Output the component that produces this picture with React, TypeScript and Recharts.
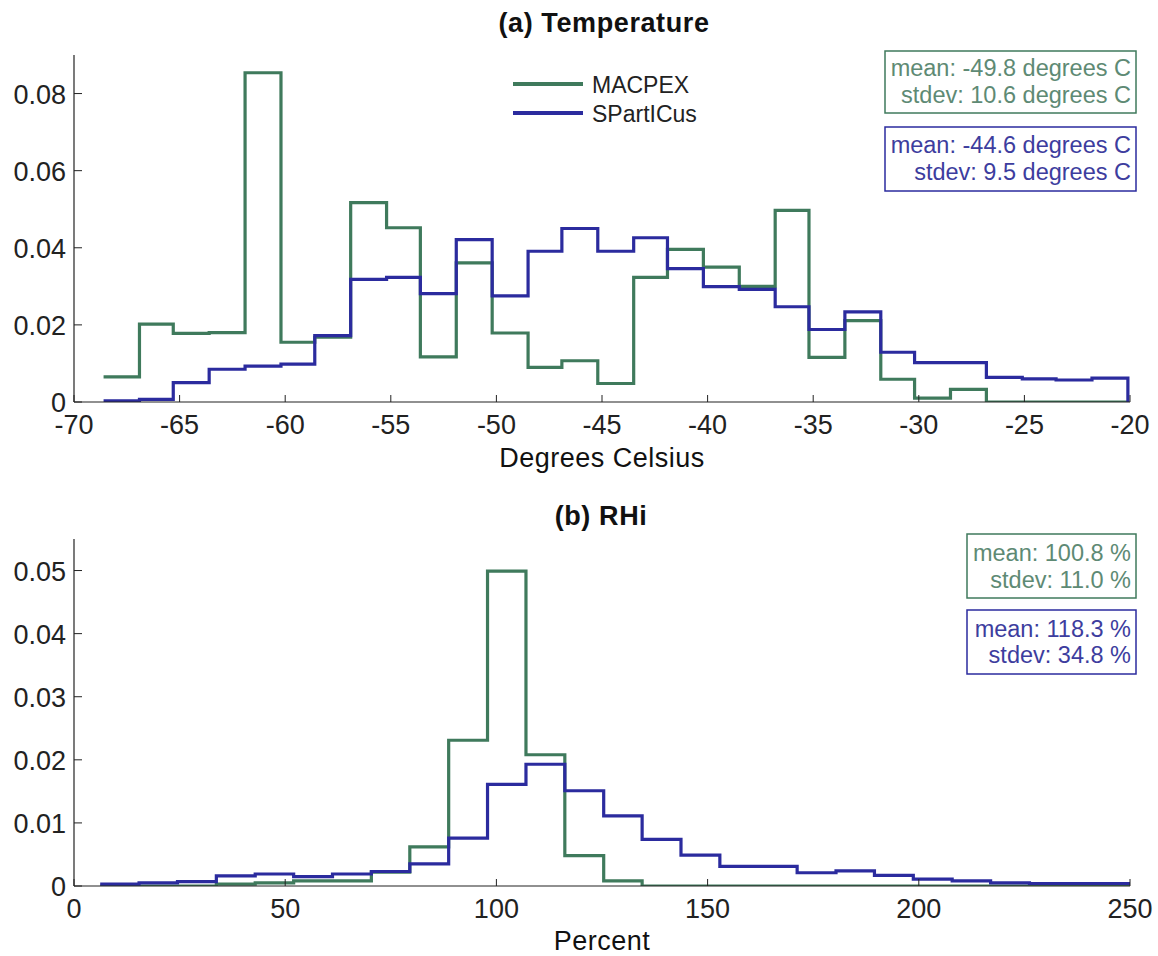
import React from 'react';
import { LineChart, Line, XAxis, YAxis, Legend } from 'recharts';

// ---------- Data ----------
// (a) Temperature histogram: bin edges (deg C) and normalized frequency per bin
const tempEdges = [-68.6, -66.9, -65.3, -63.6, -61.9, -60.2, -58.6, -56.9, -55.2, -53.6, -51.9, -50.2, -48.5, -46.9, -45.2, -43.5, -41.9, -40.2, -38.5, -36.8, -35.2, -33.5, -31.8, -30.2, -28.5, -26.8, -25.1, -23.5, -21.8, -20.1];
const tempMacpex = [0.0065, 0.0202, 0.0178, 0.018, 0.0854, 0.0155, 0.0168, 0.0517, 0.0452, 0.0117, 0.0361, 0.0179, 0.009, 0.0107, 0.0048, 0.0323, 0.0396, 0.035, 0.03, 0.0497, 0.0116, 0.0211, 0.0059, 0.001, 0.0033, 0, 0, 0, 0];
const tempSparticus = [0.0003, 0.0007, 0.005, 0.0085, 0.0093, 0.0098, 0.0172, 0.0318, 0.0323, 0.0281, 0.0421, 0.0275, 0.0391, 0.045, 0.0391, 0.0426, 0.0346, 0.0299, 0.0292, 0.0247, 0.0188, 0.0234, 0.0129, 0.0102, 0.0102, 0.0064, 0.006, 0.0057, 0.0062];
const tempXTicks = [-70, -65, -60, -55, -50, -45, -40, -35, -30, -25, -20];
const tempYTicks = [0, 0.02, 0.04, 0.06, 0.08];

// (b) RHi histogram
const rhEdges = [6.2, 15.4, 24.5, 33.7, 42.9, 52.0, 61.2, 70.4, 79.5, 88.7, 97.9, 107.0, 116.2, 125.4, 134.5, 143.7, 152.9, 162.0, 171.2, 180.4, 189.5, 198.7, 207.9, 217.0, 226.2, 235.4, 244.5, 253.7];
const rhMacpex = [0, 0, 0, 0.0003, 0.0005, 0.0008, 0.0008, 0.0022, 0.0062, 0.0231, 0.0499, 0.0208, 0.0048, 0.0008, 0, 0, 0, 0, 0, 0, 0, 0, 0, 0, 0, 0, 0];
const rhSparticus = [0.0003, 0.0005, 0.0007, 0.0016, 0.0019, 0.0015, 0.0019, 0.0023, 0.0035, 0.0076, 0.0161, 0.0193, 0.0151, 0.0111, 0.0074, 0.0049, 0.0031, 0.0031, 0.0021, 0.0024, 0.0017, 0.0011, 0.0008, 0.0005, 0.0004, 0.0004, 0.0004];
const rhXTicks = [0, 50, 100, 150, 200, 250];
const rhYTicks = [0, 0.01, 0.02, 0.03, 0.04, 0.05];

const seriesNames = ['MACPEX', 'SPartICus'];
const tempStats = [
  ['mean: -49.8 degrees C', 'stdev: 10.6 degrees C'],
  ['mean: -44.6 degrees C', 'stdev: 9.5 degrees C'],
];
const rhStats = [
  ['mean: 100.8 %', 'stdev: 11.0 %'],
  ['mean: 118.3 %', 'stdev: 34.8 %'],
];

// ---------- Styling ----------
const GREEN = '#3f7a5c';
const BLUE = '#2b2b9e';
const GREEN_TXT = '#5e8a74';
const BLUE_TXT = '#3d3d9e';
const FONT = '"Liberation Sans", Arial, Helvetica, sans-serif';
const AXIS = '#222';

// build stairs tables: value of bin i at its left edge, final edge drops to 0
function buildStairs(edges: number[], a: number[], b: number[]) {
  return edges.map((x, i) => ({
    x,
    mac: i < a.length ? a[i] : 0,
    spa: i < b.length ? b[i] : 0,
  }));
}

const tempData = buildStairs(tempEdges, tempMacpex, tempSparticus);
const rhData = buildStairs(rhEdges, rhMacpex, rhSparticus);

const fmtY = (v: number) => (v === 0 ? '0' : v.toFixed(2));

const XTick = (props: any) => {
  const { x, y, payload } = props;
  return (
    <g>
      <line x1={x} x2={x} y1={y} y2={y - 7} stroke={AXIS} strokeWidth={1} />
      <text x={x} y={y + 32} textAnchor="middle" fontSize={27} fontFamily={FONT} fill="#222">
        {String(payload.value)}
      </text>
    </g>
  );
};

const YTick = (props: any) => {
  const { x, y, payload } = props;
  return (
    <g>
      <line x1={x} x2={x + 8} y1={y} y2={y} stroke={AXIS} strokeWidth={1} />
      <text x={x - 8} y={y + 10} textAnchor="end" fontSize={27} fontFamily={FONT} fill="#222">
        {fmtY(payload.value)}
      </text>
    </g>
  );
};

const LegendContent = (props: any) => {
  const payload = props.payload || [];
  return (
    <svg width={240} height={64} style={{ display: 'block' }}>
      {payload.map((p: any, i: number) => (
        <g key={i}>
          <line x1={0} x2={70} y1={14 + i * 29} y2={14 + i * 29} stroke={p.color} strokeWidth={4} />
          <text x={79} y={23 + i * 29} fontSize={23} fontFamily={FONT} fill="#222">
            {p.value}
          </text>
        </g>
      ))}
    </svg>
  );
};

const StatBox = ({ x, y, w, h, lines, color, textColor, baselines }: any) => (
  <g>
    <rect x={x} y={y} width={w} height={h} fill="#fff" stroke={color} strokeWidth={1.5} />
    {lines.map((t: string, i: number) => (
      <text key={i} x={x + w - 5} y={baselines[i]} textAnchor="end" fontSize={23.5} fontFamily={FONT} fill={textColor}>
        {t}
      </text>
    ))}
  </g>
);

export default function App() {
  return (
    <div style={{ position: 'absolute', left: 0, top: 0, width: 1158, height: 956, background: '#fff', fontFamily: FONT }}>
      <div style={{ position: 'absolute', left: 0, top: 0 }}>
        <LineChart width={1158} height={470} data={tempData} margin={{ top: 55, right: 28, bottom: 0, left: 0 }}>
          <XAxis
            type="number"
            dataKey="x"
            domain={[-70, -20]}
            ticks={tempXTicks}
            interval={0}
            allowDataOverflow
            height={68}
            tickSize={0}
            tickMargin={0}
            tickLine={false}
            tick={<XTick />}
            axisLine={{ stroke: AXIS, strokeWidth: 1.2 }}
          />
          <YAxis
            type="number"
            domain={[0, 0.09]}
            ticks={tempYTicks}
            interval={0}
            allowDataOverflow
            width={74}
            tickSize={0}
            tickMargin={0}
            tickLine={false}
            tick={<YTick />}
            axisLine={{ stroke: AXIS, strokeWidth: 1.2 }}
          />
          <Legend
            layout="vertical"
            verticalAlign="middle"
            align="center"
            content={<LegendContent />}
            wrapperStyle={{ position: 'absolute', left: 513, top: 70, width: 240, height: 64 }}
          />
          <Line type="stepAfter" dataKey="mac" name={seriesNames[0]} stroke={GREEN} strokeWidth={3.2} dot={false} isAnimationActive={false} />
          <Line type="stepAfter" dataKey="spa" name={seriesNames[1]} stroke={BLUE} strokeWidth={3.2} dot={false} isAnimationActive={false} />
        </LineChart>
      </div>
      <div style={{ position: 'absolute', left: 0, top: 480 }}>
        <LineChart width={1158} height={476} data={rhData} margin={{ top: 59, right: 28, bottom: 0, left: 0 }}>
          <XAxis
            type="number"
            dataKey="x"
            domain={[0, 250]}
            ticks={rhXTicks}
            interval={0}
            allowDataOverflow
            height={70}
            tickSize={0}
            tickMargin={0}
            tickLine={false}
            tick={<XTick />}
            axisLine={{ stroke: AXIS, strokeWidth: 1.2 }}
          />
          <YAxis
            type="number"
            domain={[0, 0.055]}
            ticks={rhYTicks}
            interval={0}
            allowDataOverflow
            width={74}
            tickSize={0}
            tickMargin={0}
            tickLine={false}
            tick={<YTick />}
            axisLine={{ stroke: AXIS, strokeWidth: 1.2 }}
          />
          <Line type="stepAfter" dataKey="mac" name={seriesNames[0]} stroke={GREEN} strokeWidth={3.2} dot={false} isAnimationActive={false} />
          <Line type="stepAfter" dataKey="spa" name={seriesNames[1]} stroke={BLUE} strokeWidth={3.2} dot={false} isAnimationActive={false} />
        </LineChart>
      </div>
      <svg width={1158} height={956} style={{ position: 'absolute', left: 0, top: 0, pointerEvents: 'none' }}>
        <text x={604} y={32} textAnchor="middle" fontSize={27} letterSpacing={0.6} fontWeight="bold" fontFamily={FONT} fill="#111">
          (a) Temperature
        </text>
        <text x={602} y={467} textAnchor="middle" fontSize={27} letterSpacing={0.5} fontFamily={FONT} fill="#111">
          Degrees Celsius
        </text>
        <text x={601} y={525} textAnchor="middle" fontSize={27} letterSpacing={0.6} fontWeight="bold" fontFamily={FONT} fill="#111">
          (b) RHi
        </text>
        <text x={602} y={950} textAnchor="middle" fontSize={27} letterSpacing={0.5} fontFamily={FONT} fill="#111">
          Percent
        </text>
        <StatBox x={885} y={51} w={251} h={62} lines={tempStats[0]} color={GREEN} textColor={GREEN_TXT} baselines={[76, 103]} />
        <StatBox x={885} y={127} w={251} h={64} lines={tempStats[1]} color={BLUE} textColor={BLUE_TXT} baselines={[153, 180]} />
        <StatBox x={967} y={534} w={169} h={64} lines={rhStats[0]} color={GREEN} textColor={GREEN_TXT} baselines={[561, 588]} />
        <StatBox x={967} y={610} w={169} h={64} lines={rhStats[1]} color={BLUE} textColor={BLUE_TXT} baselines={[637, 663]} />
      </svg>
    </div>
  );
}
